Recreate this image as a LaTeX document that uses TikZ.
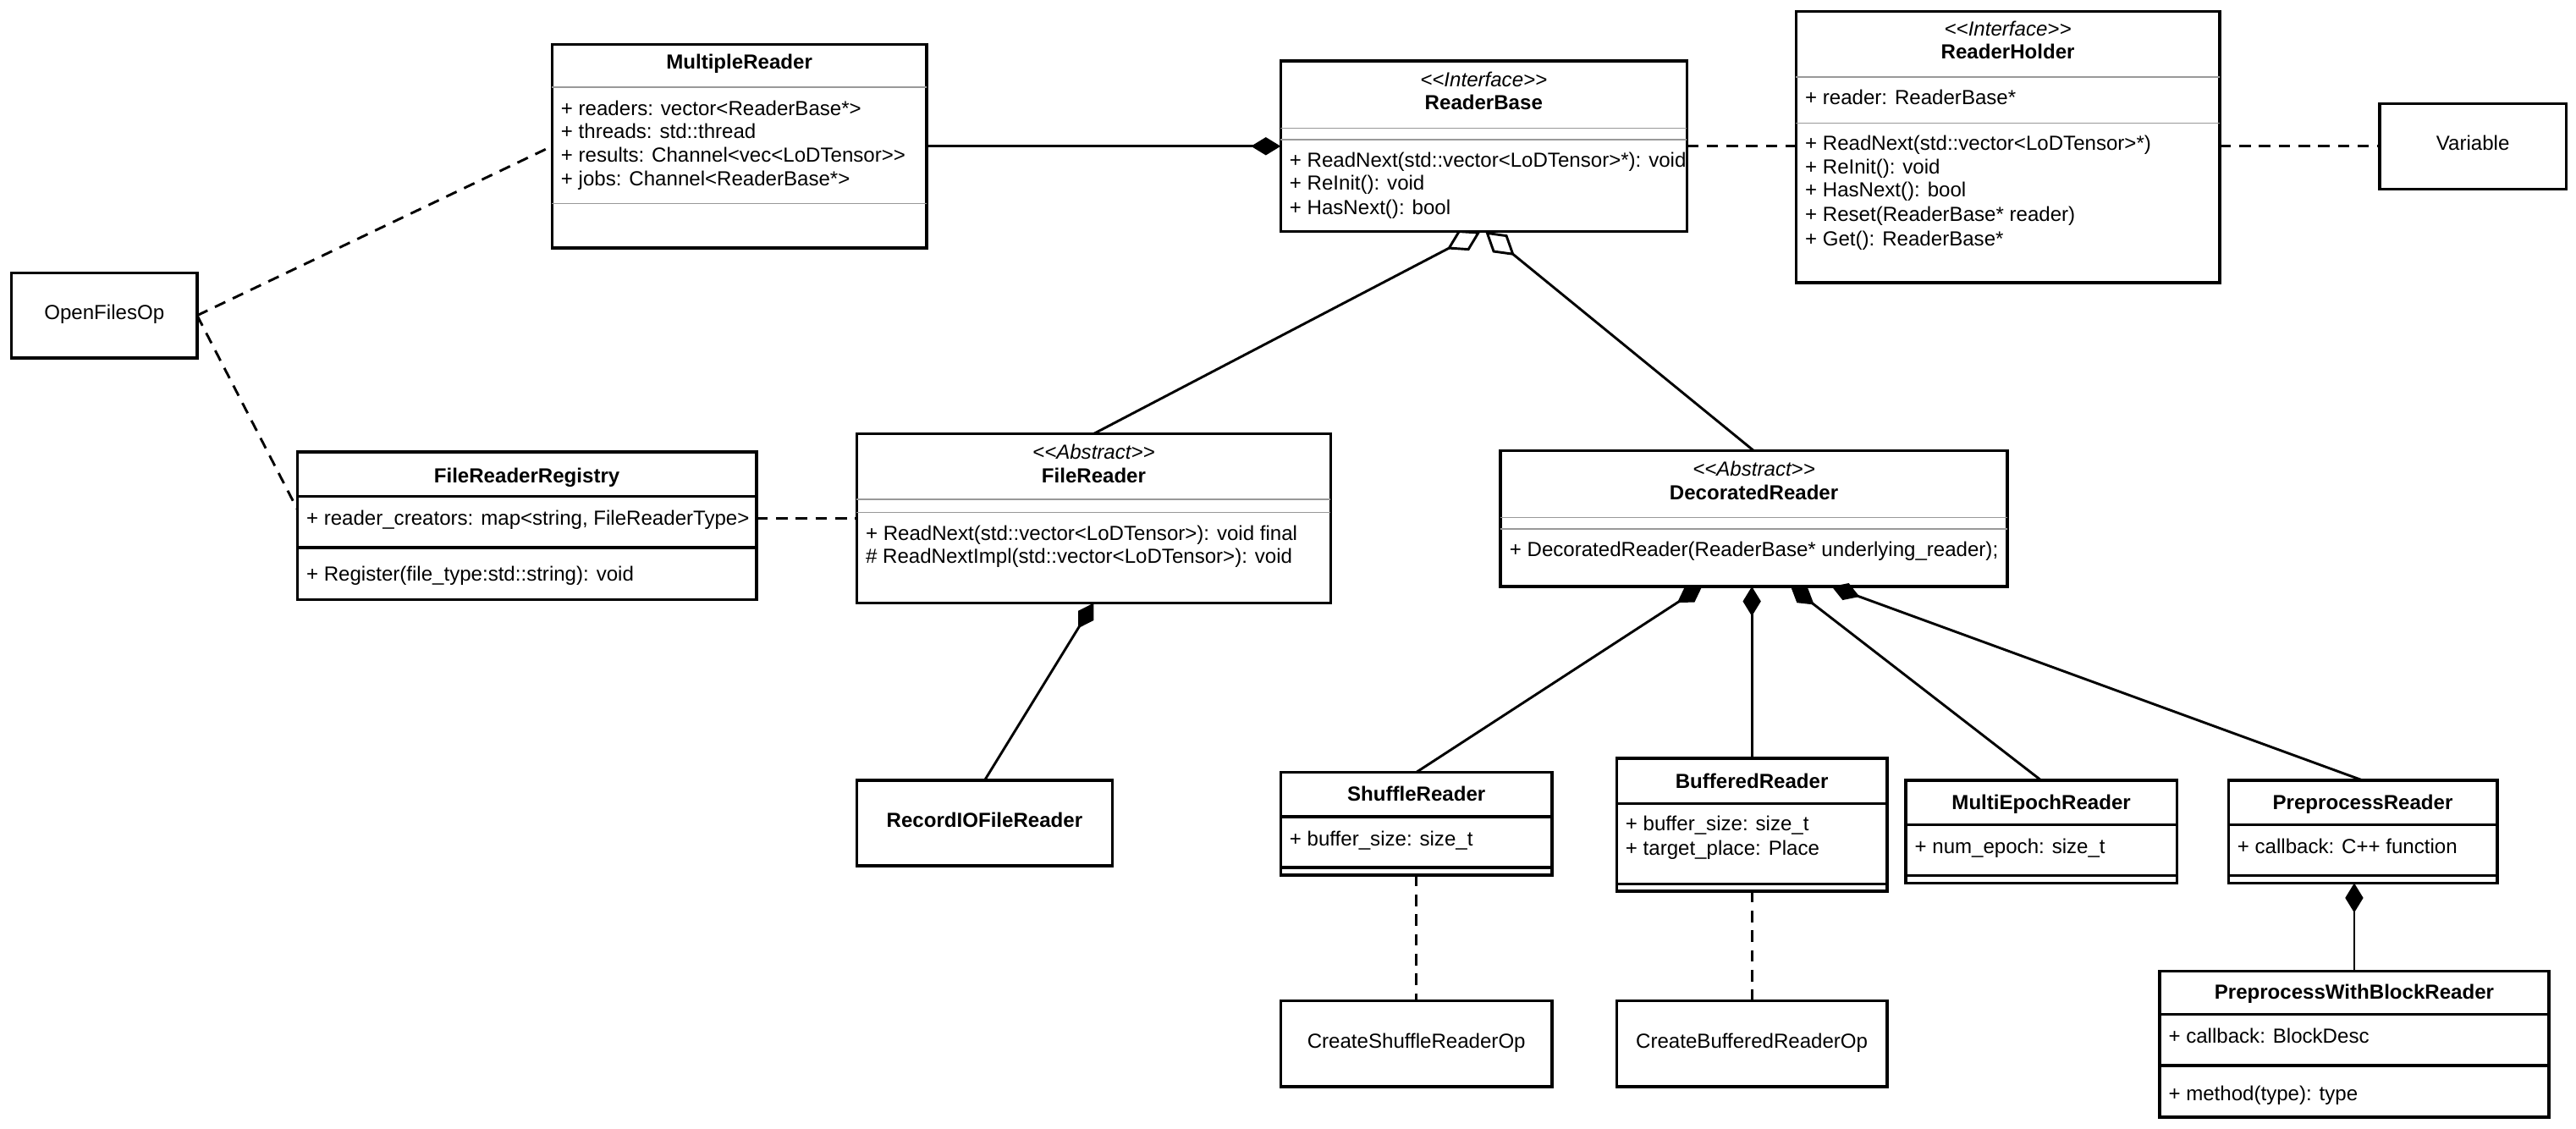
\documentclass[tikz,border=0pt]{standalone}
\usepackage{fontspec}
\setmainfont{Liberation Sans}
\usetikzlibrary{arrows.meta,calc}
\definecolor{sepgray}{RGB}{153,153,153}
\newcommand{\stLL}{<\kern0pt<}
\newcommand{\stGG}{>\kern0pt>}
\begin{document}
\begin{tikzpicture}[x=1pt,y=-1pt,
  every node/.style={inner sep=0pt,outer sep=0pt},
  box/.style={draw,line width=1.8pt,fill=white,rectangle},
  ttl/.style={font=\fontsize{12.4}{14}\selectfont\bfseries,anchor=mid},
  ster/.style={font=\fontsize{12.4}{14}\selectfont\itshape,anchor=mid},
  txt/.style={font=\fontsize{12.4}{14}\selectfont,anchor=mid west},
  lbl/.style={font=\fontsize{12.4}{14}\selectfont,anchor=mid},
  gsep/.style={draw=sepgray,line width=0.8pt},
  bsep/.style={line width=1.8pt},
  conn/.style={line width=1.5pt},
  dep/.style={line width=1.5pt,dash pattern=on 7pt off 5pt},
  comp/.style={conn,{Diamond[length=18pt,width=11pt]}-},
  agg/.style={conn,{Diamond[open,length=23pt,width=14pt]}-}
]
\useasboundingbox (0,0) rectangle (1568,687);

% ---------- boxes ----------
\node[box,minimum width=113pt,minimum height=52pt] (ofo) at (63.5,192) {};
\node[lbl] (ofoT) at (ofo.center) {OpenFilesOp};

\node[box,minimum width=228pt,minimum height=124pt] (mr) at (450,89) {};
\node[ttl] (mrT) at (450,39.2) {MultipleReader};
\draw[gsep] (336,53) -- (564,53);
\node[txt] (mrA1) at (341.5,67.5) {+ readers: vector<ReaderBase*>};
\node[txt] (mrA2) at (341.5,81.6) {+ threads: std::thread};
\node[txt] (mrA3) at (341.5,96) {+ results: Channel<vec<LoDTensor\stGG};
\node[txt] (mrA4) at (341.5,110.5) {+ jobs: Channel<ReaderBase*>};
\draw[gsep] (336,124) -- (564,124);

\node[box,minimum width=247.3pt,minimum height=104pt] (rb) at (903.15,89) {};
\node[ster] (rbS) at (903.15,50) {\stLL Interface\stGG};
\node[ttl] (rbT) at (903.15,64) {ReaderBase};
\draw[gsep] (779.5,78) -- (1026.8,78);
\draw[gsep] (779.5,85) -- (1026.8,85);
\node[txt] (rbM1) at (785,99) {+ ReadNext(std::vector<LoDTensor>*): void};
\node[txt] (rbM2) at (785,113) {+ ReInit(): void};
\node[txt] (rbM3) at (785,128) {+ HasNext(): bool};

\node[box,minimum width=257.7pt,minimum height=165pt] (rh) at (1222.15,89.5) {};
\node[ster] (rhS) at (1222.15,19) {\stLL Interface\stGG};
\node[ttl] (rhT) at (1222.15,33) {ReaderHolder};
\draw[gsep] (1093.3,47) -- (1351,47);
\node[txt] (rhA1) at (1098.8,61) {+ reader: ReaderBase*};
\draw[gsep] (1093.3,75) -- (1351,75);
\node[txt] (rhM1) at (1098.8,89) {+ ReadNext(std::vector<LoDTensor>*)};
\node[txt] (rhM2) at (1098.8,103) {+ ReInit(): void};
\node[txt] (rhM3) at (1098.8,117) {+ HasNext(): bool};
\node[txt] (rhM4) at (1098.8,132) {+ Reset(ReaderBase* reader)};
\node[txt] (rhM5) at (1098.8,147) {+ Get(): ReaderBase*};

\node[box,minimum width=113.5pt,minimum height=52pt] (var) at (1505.25,89) {};
\node[lbl] (varT) at (var.center) {Variable};

\node[box,minimum width=279.4pt,minimum height=90pt] (frr) at (320.7,320) {};
\node[ttl] (frrT) at (320.7,291) {FileReaderRegistry};
\draw[bsep] (181,302.2) -- (460.4,302.2);
\node[txt] (frrA1) at (186.5,317) {+ reader\_creators: map<string, FileReaderType>};
\draw[bsep] (181,333.4) -- (460.4,333.4);
\node[txt] (frrM1) at (186.5,351) {+ Register(file\_type:std::string): void};

\node[box,minimum width=288.5pt,minimum height=103pt] (fr) at (665.75,315.5) {};
\node[ster] (frS) at (665.75,277) {\stLL Abstract\stGG};
\node[ttl] (frT) at (665.75,291) {FileReader};
\draw[gsep] (521.5,304) -- (810,304);
\draw[gsep] (521.5,312) -- (810,312);
\node[txt] (frM1) at (527,326) {+ ReadNext(std::vector<LoDTensor>): void final};
\node[txt] (frM2) at (527,340) {\# ReadNextImpl(std::vector<LoDTensor>): void};

\node[box,minimum width=155.4pt,minimum height=52pt] (rio) at (599.3,501) {};
\node[ttl] (rioT) at (rio.center) {RecordIOFileReader};

\node[box,minimum width=308.4pt,minimum height=82.6pt] (dr) at (1067.6,315.7) {};
\node[ster] (drS) at (1067.6,287) {\stLL Abstract\stGG};
\node[ttl] (drT) at (1067.6,301.4) {DecoratedReader};
\draw[gsep] (913.4,315) -- (1221.8,315);
\draw[gsep] (913.4,322) -- (1221.8,322);
\node[txt] (drM1) at (918.9,336) {+ DecoratedReader(ReaderBase* underlying\_reader);};

\node[box,minimum width=165.3pt,minimum height=62.5pt] (sr) at (862.15,501.25) {};
\node[ttl] (srT) at (862.15,485) {ShuffleReader};
\draw[bsep] (779.5,497) -- (944.8,497);
\node[txt] (srA1) at (785,512) {+ buffer\_size: size\_t};
\draw[bsep] (779.5,528) -- (944.8,528);

\node[box,minimum width=164.7pt,minimum height=80.7pt] (br) at (1066.35,501.95) {};
\node[ttl] (brT) at (1066.35,477) {BufferedReader};
\draw[bsep] (984,489) -- (1148.7,489);
\node[txt] (brA1) at (989.5,503) {+ buffer\_size: size\_t};
\node[txt] (brA2) at (989.5,518) {+ target\_place: Place};
\draw[bsep] (984,538) -- (1148.7,538);

\node[box,minimum width=165pt,minimum height=62.5pt] (mer) at (1242.5,506.25) {};
\node[ttl] (merT) at (1242.5,490) {MultiEpochReader};
\draw[bsep] (1160,502) -- (1325,502);
\node[txt] (merA1) at (1165.5,517) {+ num\_epoch: size\_t};
\draw[bsep] (1160,533) -- (1325,533);

\node[box,minimum width=163.6pt,minimum height=62.5pt] (ppr) at (1438.2,506.25) {};
\node[ttl] (pprT) at (1438.2,490) {PreprocessReader};
\draw[bsep] (1356.4,502) -- (1520,502);
\node[txt] (pprA1) at (1361.9,517) {+ callback: C++ function};
\draw[bsep] (1356.4,533) -- (1520,533);

\node[box,minimum width=237pt,minimum height=89pt] (pwbr) at (1433,635.5) {};
\node[ttl] (pwbrT) at (1433,605.4) {PreprocessWithBlockReader};
\draw[bsep] (1314.5,617.4) -- (1551.5,617.4);
\node[txt] (pwbrA1) at (1320,632) {+ callback: BlockDesc};
\draw[bsep] (1314.5,648.6) -- (1551.5,648.6);
\node[txt] (pwbrM1) at (1320,667) {+ method(type): type};

\node[box,minimum width=165.3pt,minimum height=52.5pt] (csro) at (862.15,635.25) {};
\node[lbl] (csroT) at (csro.center) {CreateShuffleReaderOp};

\node[box,minimum width=164.7pt,minimum height=52.5pt] (cbro) at (1066.35,635.25) {};
\node[lbl] (cbroT) at (cbro.center) {CreateBufferedReaderOp};

% ---------- connectors ----------
\coordinate (frrIn) at ($(frr.west)+(0,-10)$);
\draw[dep] (ofo.east) -- (mr.west);
\draw[dep] (ofo.east) -- (frrIn);
\draw[conn,-{Diamond[length=18pt,width=11pt]}] (mr.east) -- (rb.west);
\draw[dep] (rb.east) -- (rb.east -| rh.west);
\draw[dep] (var.west -| rh.east) -- (var.west);

\coordinate (rbL) at ($(rb.south)+(-2,0)$);
\coordinate (rbR) at ($(rb.south)+(1,0)$);
\draw[agg] (rbL) -- (fr.north);
\draw[agg] (rbR) -- (dr.north);

\draw[dep] (fr.west -| frr.east) -- (fr.west);
\draw[comp] (fr.south) -- (rio.north);

\coordinate (drA) at ($(dr.south)+(-31.6,0)$);
\coordinate (drC) at ($(dr.south)+(22.4,0)$);
\coordinate (drD) at ($(dr.south)+(47.4,0)$);
\draw[comp] (drA) -- (sr.north);
\draw[comp] (dr.south -| br.north) -- (br.north);
\draw[comp] (drC) -- (mer.north);
\draw[comp] (drD) -- (ppr.north);

\draw[dep] (sr.south) -- (csro.north);
\draw[dep] (br.south) -- (cbro.north);
\draw[comp] (ppr.south -| pwbr.north) -- (pwbr.north);
\end{tikzpicture}
\end{document}
